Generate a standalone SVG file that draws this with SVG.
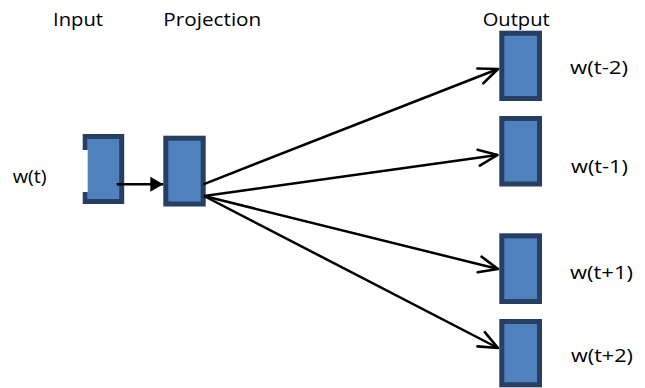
<svg xmlns="http://www.w3.org/2000/svg" width="645" height="388" viewBox="0 0 645 388">
  <style>
    .lbl { font-family: "Open Sans", "Liberation Sans", sans-serif; font-size: 18px; fill: #000; }
    .fill { fill: #4F81BD; }
    .box { fill: #4F81BD; stroke: #263F63; stroke-width: 5; }
    .edge { stroke: #000; stroke-width: 2.5; fill: none; }
  </style>
  <defs>
    <marker id="open" viewBox="-22 -11 24 22" markerUnits="userSpaceOnUse" markerWidth="24" markerHeight="22" refX="0" refY="0" orient="auto">
      <path d="M-19,-8 L0,0 L-19,8" fill="none" stroke="#000" stroke-width="2.6" stroke-linejoin="round" stroke-linecap="round"/>
    </marker>
    <marker id="solid" viewBox="-14 -9 16 18" markerUnits="userSpaceOnUse" markerWidth="16" markerHeight="18" refX="0" refY="0" orient="auto">
      <path d="M-13,-7.5 L0,0 L-13,7.5 Z" fill="#000"/>
    </marker>
  </defs>

  <text class="lbl" x="53" y="26" textLength="50" lengthAdjust="spacingAndGlyphs">Input</text>
  <text class="lbl" x="163.3" y="26" textLength="98" lengthAdjust="spacingAndGlyphs">Projection</text>
  <text class="lbl" x="482.7" y="26" textLength="67" lengthAdjust="spacingAndGlyphs">Output</text>

  <g id="input">
    <rect class="fill" x="87.7" y="136.5" width="34" height="65"/>
    <path d="M85.2,150 V136.5 H121.7 V201.5 H85.2 V192" fill="none" stroke="#263F63" stroke-width="5"/>
    <text class="lbl" x="12.7" y="183" textLength="34" lengthAdjust="spacingAndGlyphs">w(t)</text>
  </g>

  <g id="projection">
    <rect class="box" x="165.8" y="138.2" width="37.4" height="65.8"/>
  </g>

  <g id="out-t-2">
    <rect class="box" x="501.8" y="33.2" width="37.7" height="65.3"/>
    <text class="lbl" x="570" y="74" textLength="58" lengthAdjust="spacingAndGlyphs">w(t-2)</text>
  </g>
  <g id="out-t-1">
    <rect class="box" x="501.8" y="118.5" width="37.7" height="65.5"/>
    <text class="lbl" x="571" y="173" textLength="57" lengthAdjust="spacingAndGlyphs">w(t-1)</text>
  </g>
  <g id="out-t+1">
    <rect class="box" x="501.8" y="235.8" width="37.7" height="65.7"/>
    <text class="lbl" x="570" y="279" textLength="63" lengthAdjust="spacingAndGlyphs">w(t+1)</text>
  </g>
  <g id="out-t+2">
    <rect class="box" x="501.8" y="321.5" width="37.7" height="63.3"/>
    <text class="lbl" x="571" y="362" textLength="62" lengthAdjust="spacingAndGlyphs">w(t+2)</text>
  </g>

  <g id="connectors">
    <line class="edge" x1="116.7" y1="184.3" x2="163.3" y2="184.3" marker-end="url(#solid)"/>
    <line class="edge" x1="203.3" y1="184.3" x2="498" y2="69" marker-end="url(#open)"/>
    <line class="edge" x1="204" y1="196" x2="497.5" y2="155" marker-end="url(#open)"/>
    <line class="edge" x1="204" y1="196" x2="498" y2="269" marker-end="url(#open)"/>
    <line class="edge" x1="204" y1="196" x2="498" y2="348" marker-end="url(#open)"/>
  </g>
</svg>
